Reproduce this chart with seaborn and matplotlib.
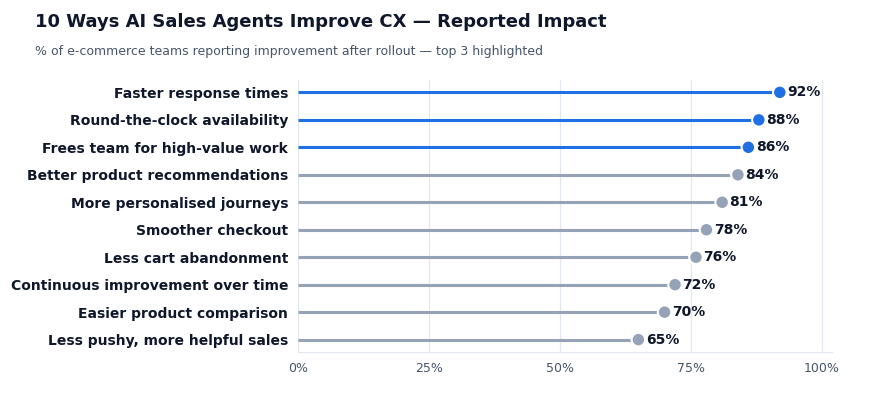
import matplotlib
matplotlib.use("Agg")
import matplotlib.pyplot as plt
import seaborn as sns
import pandas as pd
from matplotlib.ticker import FuncFormatter

# Data
benefits = [
    "Faster response times",
    "Round-the-clock availability",
    "Frees team for high-value work",
    "Better product recommendations",
    "More personalised journeys",
    "Smoother checkout",
    "Less cart abandonment",
    "Continuous improvement over time",
    "Easier product comparison",
    "Less pushy, more helpful sales",
]
pct = [92, 88, 86, 84, 81, 78, 76, 72, 70, 65]
top_n = 3

BLUE = "#1f6fe5"
GREY = "#94a3b8"
DARK = "#0f172a"
MUTED = "#475569"
GRID = "#e2e8f0"

df = pd.DataFrame({"benefit": benefits, "pct": pct})
df["group"] = ["top" if i < top_n else "rest" for i in range(len(df))]
df["pos"] = range(len(df))

sns.set_style("white")
plt.rcParams["font.family"] = ["DejaVu Sans"]

fig = plt.figure(figsize=(8.76, 4.0), dpi=100)
ax = fig.add_axes([0.340, 0.12, 0.610, 0.68])

# Stems
colors = [BLUE if g == "top" else GREY for g in df["group"]]
ax.hlines(df["pos"], 0, df["pct"], colors=colors, linewidth=2.2, zorder=2)

# Dots
sns.scatterplot(data=df, x="pct", y="pos", hue="group",
                palette={"top": BLUE, "rest": GREY}, s=95,
                edgecolor="white", linewidth=1.5, legend=False, zorder=3, ax=ax)

# Value labels
for _, r in df.iterrows():
    ax.text(r["pct"] + 1.4, r["pos"], f"{r['pct']}%", va="center", ha="left",
            fontsize=10, fontweight="bold", color=DARK)

ax.set_xlim(0, 102)
ax.set_ylim(9.45, -0.45)
ax.set_xticks([0, 25, 50, 75, 100])
ax.xaxis.set_major_formatter(FuncFormatter(lambda v, _: f"{int(v)}%"))
ax.set_yticks(df["pos"])
ax.set_yticklabels(df["benefit"], fontsize=10, fontweight="bold", color=DARK)
ax.set_xlabel("")
ax.set_ylabel("")

ax.grid(axis="x", color=GRID, linewidth=0.9)
ax.set_axisbelow(True)
for side in ["top", "right", "left"]:
    ax.spines[side].set_visible(False)
ax.spines["bottom"].set_color(GRID)
ax.tick_params(axis="x", colors=MUTED, labelsize=9, length=4, color=GRID)
ax.tick_params(axis="x", labelcolor=MUTED)
ax.tick_params(axis="y", length=0, pad=7)

fig.text(35 / 876, 1 - 22 / 400, "10 Ways AI Sales Agents Improve CX \u2014 Reported Impact",
         fontsize=13, fontweight="bold", color=DARK, va="center", ha="left")
fig.text(35 / 876, 1 - 52 / 400,
         "% of e-commerce teams reporting improvement after rollout \u2014 top 3 highlighted",
         fontsize=9, color=MUTED, va="center", ha="left")

fig.savefig("out.png", dpi=100)
